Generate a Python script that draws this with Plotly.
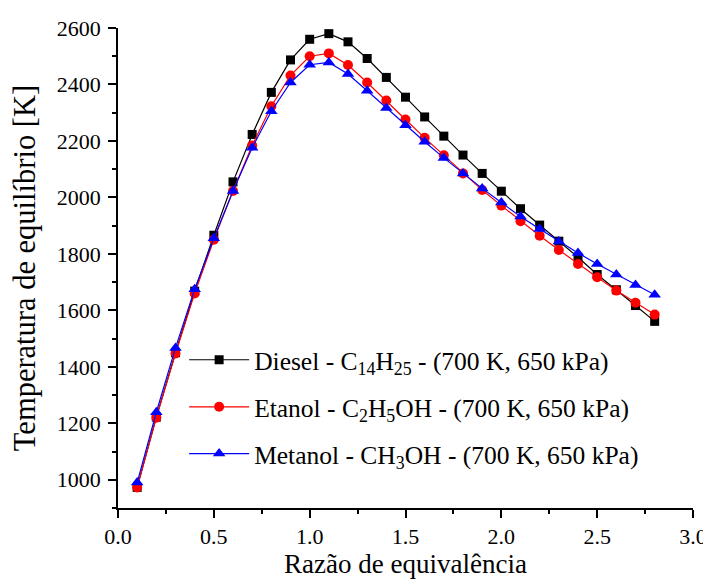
import plotly.graph_objects as go

phi = [0.1, 0.2, 0.3, 0.4, 0.5, 0.6, 0.7, 0.8, 0.9, 1.0, 1.1, 1.2, 1.3, 1.4,
       1.5, 1.6, 1.7, 1.8, 1.9, 2.0, 2.1, 2.2, 2.3, 2.4, 2.5, 2.6, 2.7, 2.8]

diesel = [973, 1222, 1450, 1668, 1866, 2055, 2223, 2372, 2487, 2560, 2580, 2551,
          2492, 2425, 2355, 2285, 2217, 2150, 2085, 2022, 1960, 1902, 1845, 1788,
          1727, 1673, 1617, 1561]
etanol = [973, 1220, 1447, 1660, 1850, 2023, 2184, 2323, 2432, 2500, 2510, 2469,
          2407, 2343, 2276, 2211, 2149, 2085, 2026, 1971, 1916, 1864, 1814, 1764,
          1717, 1670, 1627, 1585]
metanol = [990, 1239, 1467, 1675, 1855, 2023, 2176, 2305, 2407, 2470, 2478, 2437,
           2378, 2317, 2256, 2197, 2140, 2085, 2032, 1982, 1932, 1888, 1844, 1803,
           1764, 1727, 1690, 1655]

x_tickvals = [0.0, 0.5, 1.0, 1.5, 2.0, 2.5, 3.0]
x_ticktext = ["0.0", "0.5", "1.0", "1.5", "2.0", "2.5", "3.0"]
y_tickvals = [1000, 1200, 1400, 1600, 1800, 2000, 2200, 2400, 2600]
y_ticktext = ["1000", "1200", "1400", "1600", "1800", "2000", "2200", "2400", "2600"]

names = ["Diesel - C<sub>14</sub>H<sub>25</sub> - (700 K, 650 kPa)",
         "Etanol - C<sub>2</sub>H<sub>5</sub>OH - (700 K, 650 kPa)",
         "Metanol - CH<sub>3</sub>OH - (700 K, 650 kPa)"]

FONT = "Liberation Serif"


def serif(t):
    return '<span style="font-family:\'Liberation Serif\', serif">' + t + '</span>'


fig = go.Figure()
series = [diesel, etanol, metanol]
colors = ["#000000", "#FF0000", "#0000FF"]
symbols = ["square", "circle", "triangle-up"]
sizes = [9, 10, 11]
legends = ["legend", "legend2", "legend3"]
for ys, nm, c, s, sz, lg in zip(series, names, colors, symbols, sizes, legends):
    fig.add_trace(go.Scatter(
        x=phi, y=ys, name=nm, mode="lines+markers",
        line=dict(color=c, width=1.2),
        marker=dict(symbol=s, size=sz, color=c, line=dict(width=0)),
        legend=lg,
    ))

leg_common = dict(font=dict(family=FONT, size=25.5, color="black"),
                  bgcolor="rgba(0,0,0,0)", xanchor="left", yanchor="middle",
                  itemwidth=60)
# page body has an 8px margin: figure is sized/offset to compensate
fig.update_layout(
    width=703, height=575,
    margin=dict(l=110, r=18, t=20, b=75, autoexpand=False),
    paper_bgcolor="white", plot_bgcolor="white",
    font=dict(family=FONT, color="black"),
    showlegend=True,
    legend=dict(x=0.115, y=0.308, **leg_common),
    legend2=dict(x=0.115, y=0.210, **leg_common),
    legend3=dict(x=0.115, y=0.1125, **leg_common),
    xaxis=dict(
        range=[0, 3.0], showgrid=False, zeroline=False, automargin=False,
        showline=True, linecolor="black", linewidth=1.5,
        ticks="outside", ticklen=8, tickwidth=1.5, tickcolor="black",
        tickmode="array", tickvals=x_tickvals, ticktext=[serif(t) for t in x_ticktext],
        tickfont=dict(family=FONT, size=22, color="black"),
        minor=dict(dtick=0.25, tick0=0, ticks="outside", ticklen=4, tickwidth=1.5, tickcolor="black"),
        title=dict(text="Razão de equivalência", font=dict(family=FONT, size=27), standoff=6),
    ),
    yaxis=dict(
        range=[900, 2600], showgrid=False, zeroline=False, automargin=False,
        showline=True, linecolor="black", linewidth=1.5,
        ticks="outside", ticklen=8, tickwidth=1.5, tickcolor="black",
        tickmode="array", tickvals=y_tickvals, ticktext=[serif(t) for t in y_ticktext],
        tickfont=dict(family=FONT, size=22, color="black"),
        ticklabelstandoff=3,
        minor=dict(dtick=100, tick0=1000, ticks="outside", ticklen=4, tickwidth=1.5, tickcolor="black"),
        title=dict(text="Temperatura de equilíbrio [K]", font=dict(family=FONT, size=30.5), standoff=25),
    ),
)
fig.write_html("out.html")
